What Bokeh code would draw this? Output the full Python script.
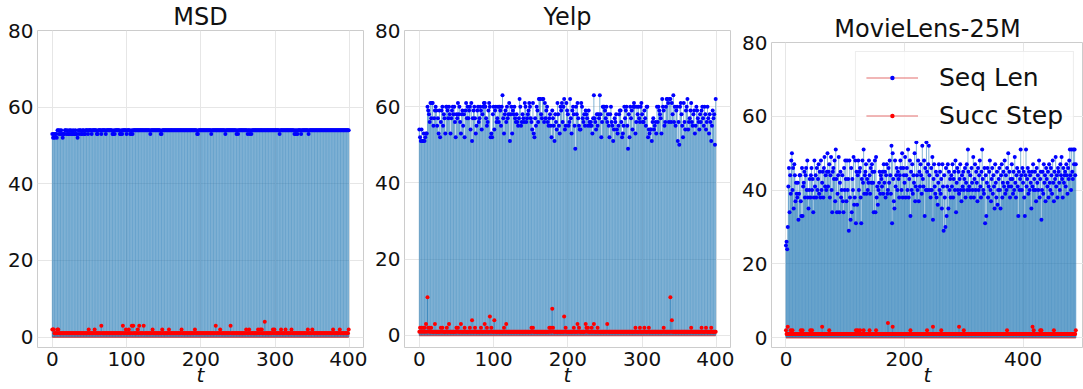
from bokeh.plotting import figure
from bokeh.models import Range1d, FixedTicker, Legend, LegendItem, ColumnDataSource, Spacer
from bokeh.layouts import row, column
from bokeh.embed import file_html
from bokeh.resources import INLINE

# ---------------- data ----------------
titles = ["MSD", "Yelp", "MovieLens-25M"]
x_ticks_a = [0, 100, 200, 300, 400]
x_ticks_b = [0, 200, 400]
y_ticks = [0, 20, 40, 60, 80]
legend_labels = ["Seq Len", "Succ Step"]

msd_seq = [
    53,52,53,52,53,53,52,54,54,53,54,53,54,53,52,53,53,54,54,53,
    54,53,53,54,53,54,53,53,54,53,53,54,53,53,52,54,53,54,54,53,
    53,54,54,53,53,54,54,54,53,54,54,54,54,53,54,54,54,54,54,54,
    53,53,54,54,54,54,53,54,54,54,54,54,53,54,54,54,54,54,54,54,
    54,53,53,54,53,54,54,54,54,54,54,53,53,54,53,54,54,54,54,54,
    53,54,54,54,54,53,53,54,53,54,54,54,54,54,54,54,54,54,54,54,
    54,54,54,54,54,54,54,54,54,54,54,54,53,54,54,54,54,54,54,54,
    54,54,54,54,54,54,53,53,54,54,54,54,54,54,54,54,54,54,54,54,
    54,54,54,54,54,54,54,54,54,54,54,54,54,54,54,54,54,54,54,54,
    54,54,54,54,54,54,54,54,54,54,54,54,54,54,54,53,53,54,54,54,
    54,54,54,54,54,54,54,54,54,54,54,54,54,54,53,54,54,54,54,54,
    54,54,54,54,54,54,54,54,54,54,54,54,54,53,54,54,54,54,54,54,
    54,54,54,54,54,54,54,54,53,54,53,54,54,54,54,54,54,54,54,54,
    54,54,54,53,54,54,53,54,53,54,54,54,54,54,54,54,54,54,54,54,
    54,54,54,54,54,54,54,54,54,54,54,54,54,54,54,54,54,54,54,54,
    54,54,54,54,54,54,53,54,54,54,54,54,54,54,54,54,54,54,54,54,
    54,54,54,54,54,54,53,54,53,54,53,54,54,54,54,53,54,54,54,54,
    54,54,54,54,54,53,54,54,54,54,54,54,54,54,54,54,54,54,54,54,
    54,54,54,54,54,54,54,54,54,54,54,54,54,54,54,54,54,54,54,54,
    54,54,54,54,54,54,54,54,54,54,54,54,54,54,54,54,54,54,54,54,
]
msd_succ = [
    2,2,2,1,1,1,1,2,2,1,1,1,1,1,1,1,1,1,1,1,
    1,1,1,1,1,1,1,1,1,1,1,1,1,1,1,1,1,1,1,1,
    1,1,1,1,1,1,1,1,1,2,1,1,1,1,1,1,1,2,1,1,
    1,1,1,1,1,1,3,1,1,1,1,1,1,1,1,1,1,1,1,1,
    1,1,1,1,1,1,1,1,1,1,1,1,1,1,1,3,1,1,1,2,
    1,1,1,2,1,1,1,3,1,3,1,1,1,1,1,2,1,3,1,1,
    1,1,1,3,1,1,1,1,1,1,1,1,1,1,1,2,1,1,1,1,
    1,1,1,1,1,1,1,1,2,1,1,1,1,1,1,1,1,2,1,1,
    1,1,1,1,1,1,1,1,1,1,1,1,1,1,2,1,1,1,1,1,
    1,1,1,1,1,1,1,1,1,1,1,1,2,1,1,1,1,1,1,1,
    1,1,1,1,1,1,1,1,1,1,1,1,1,1,1,1,1,1,1,1,
    3,1,1,1,1,1,2,1,1,1,1,1,1,1,1,1,1,1,1,1,
    3,1,1,1,1,1,1,1,1,1,1,1,1,1,1,1,1,1,1,1,
    1,2,1,1,1,2,1,1,1,1,1,1,1,1,1,1,1,2,1,1,
    2,1,2,1,1,1,4,1,1,1,1,1,1,1,1,1,1,2,1,2,
    1,1,1,1,1,1,1,1,2,1,1,1,1,1,2,1,1,1,1,1,
    1,1,2,1,1,1,1,1,1,1,1,1,1,1,1,1,1,1,1,1,
    1,1,1,1,2,1,1,1,1,1,2,1,1,1,1,1,1,1,1,1,
    1,1,1,1,1,1,1,1,1,1,1,1,1,1,1,1,1,1,2,1,
    1,1,1,1,1,1,1,2,1,1,1,1,1,1,1,1,1,1,1,2,
]
yelp_seq = [
    54,52,51,54,51,51,53,51,52,53,53,60,59,58,56,61,57,61,61,55,
    57,59,60,59,55,57,53,59,52,56,59,60,55,58,57,53,60,60,59,57,
    60,58,53,57,59,60,58,60,56,52,58,57,61,58,60,56,53,58,59,55,
    58,52,59,61,57,60,57,59,60,54,61,51,57,59,60,57,53,55,59,60,
    56,57,60,59,54,58,60,61,61,60,57,55,56,59,61,60,52,53,52,58,
    60,54,59,60,56,57,60,56,60,59,55,60,63,57,53,58,59,56,60,57,
    58,61,51,58,60,53,59,58,60,57,56,58,56,55,57,62,60,55,56,58,
    57,56,61,60,56,57,58,59,61,60,57,56,54,61,53,52,57,55,60,59,
    56,62,62,62,58,57,62,62,56,61,57,59,60,56,55,57,58,55,52,59,
    57,55,51,58,56,54,61,58,55,53,60,59,61,56,60,62,54,55,61,59,
    58,55,56,62,57,53,59,60,58,55,49,60,58,61,57,55,54,54,61,60,
    57,56,58,55,59,58,57,55,59,56,55,56,55,53,57,63,57,56,54,58,
    55,58,57,63,58,52,56,60,60,60,59,57,60,56,58,55,52,58,60,56,
    55,51,54,57,56,58,54,53,55,58,59,59,56,52,53,55,60,57,59,60,
    55,49,58,52,60,57,59,54,60,61,60,53,56,60,58,60,57,56,60,61,
    58,56,56,59,57,55,60,60,52,54,53,54,54,51,56,57,54,55,56,53,
    60,56,60,59,58,57,53,62,60,59,55,56,60,62,62,61,56,62,62,56,
    61,58,63,56,60,55,59,60,51,56,50,60,61,58,55,52,61,56,54,59,
    60,62,54,56,57,59,61,56,55,58,59,53,55,60,59,57,56,54,58,56,
    59,60,57,55,60,58,54,56,60,57,53,58,56,51,55,59,57,58,50,62,
]
yelp_succ = [
    1,2,1,2,1,2,1,2,1,3,1,10,2,1,2,1,2,1,1,1,
    1,3,1,1,1,1,1,1,1,2,1,2,1,1,1,1,1,2,1,1,
    3,1,1,1,1,1,1,1,1,1,2,1,2,1,1,1,3,1,1,1,
    1,2,1,1,1,1,1,1,2,1,1,4,1,1,1,2,1,1,1,1,
    1,1,1,2,1,1,1,1,3,1,1,2,1,1,1,5,1,2,1,1,
    1,4,1,1,1,1,1,1,1,1,1,1,1,1,2,1,1,3,1,1,
    1,1,1,1,1,1,1,1,1,1,1,1,1,1,1,1,1,1,1,1,
    1,1,1,1,1,1,1,1,1,1,1,2,1,2,1,1,1,1,1,1,
    1,1,1,1,1,1,1,1,1,1,1,1,1,1,1,2,1,2,1,7,
    2,1,1,1,1,1,1,1,1,1,1,1,1,1,1,5,1,2,1,1,
    1,1,1,1,1,1,1,1,2,1,1,1,1,3,1,2,1,1,1,1,
    1,1,1,1,3,2,1,2,1,1,1,1,2,1,1,3,1,1,1,1,
    2,1,1,1,1,1,1,1,1,1,1,1,1,3,1,1,1,1,1,1,
    1,1,1,1,1,1,1,1,1,1,1,1,1,1,1,1,1,1,1,1,
    1,1,1,1,1,1,1,1,1,1,1,2,1,1,1,1,1,2,1,1,
    1,1,1,2,1,1,1,1,1,2,1,1,1,1,1,1,1,1,1,1,
    1,1,1,1,1,1,1,1,1,2,1,1,1,1,1,1,1,1,10,1,
    4,1,1,1,1,1,1,1,1,1,1,1,1,1,1,1,1,1,1,1,
    1,1,1,1,1,1,2,1,1,1,1,1,1,1,1,1,1,1,1,1,
    2,1,1,1,1,1,2,1,1,1,1,1,1,2,1,1,1,1,1,1,
]
ml_seq = [
    25,26,24,30,41,46,34,44,39,48,50,40,46,35,47,44,37,42,39,38,
    42,32,39,44,44,37,33,46,33,41,42,45,38,44,46,40,48,38,35,40,
    43,38,44,46,40,43,34,38,48,41,44,38,46,40,43,47,39,45,38,48,
    40,42,45,38,46,49,41,44,40,45,50,41,45,47,38,44,49,40,34,45,
    46,43,48,37,51,43,34,39,44,49,34,42,45,38,40,44,37,34,46,40,
    48,43,37,48,40,43,29,48,38,32,46,34,43,40,49,36,38,48,31,45,
    36,44,48,40,45,46,38,31,43,48,42,51,39,44,45,47,39,43,40,42,
    48,44,39,46,42,47,45,42,34,45,48,34,49,38,41,36,40,42,45,39,
    44,43,41,45,39,47,42,45,38,44,47,39,40,46,42,48,44,39,52,31,
    50,43,37,35,48,41,44,46,40,45,43,38,44,48,46,40,50,38,46,44,
    42,49,38,44,46,40,51,38,43,48,33,45,40,47,39,44,42,50,37,41,
    53,44,40,48,37,45,41,47,44,39,52,43,41,48,33,46,40,53,45,40,
    47,52,44,40,38,46,40,49,32,43,47,41,39,45,38,44,36,42,47,40,
    45,39,43,35,47,41,29,44,38,30,46,33,41,47,35,45,40,43,38,44,
    41,47,38,43,45,40,48,34,42,46,40,45,39,43,47,40,37,44,41,45,
    40,43,46,38,42,47,40,51,45,41,40,44,38,46,42,40,49,38,43,47,
    40,45,42,37,46,40,44,48,41,38,45,51,43,40,39,46,31,44,33,42,
    46,38,41,45,48,40,37,43,46,39,44,41,35,47,42,38,45,36,40,43,
    46,40,35,44,47,38,42,45,41,48,39,44,40,46,42,50,41,45,38,43,
    41,47,43,39,45,40,49,42,38,44,46,41,33,45,40,43,51,44,40,46,
    42,45,38,33,44,51,41,43,46,39,45,40,44,42,35,45,41,47,40,43,
    45,40,37,46,42,44,40,48,38,43,45,32,40,45,39,47,42,44,37,46,
    43,41,45,38,47,42,40,46,44,39,48,42,37,45,43,49,41,44,38,46,
    45,42,40,47,44,49,43,38,46,42,44,45,41,47,44,39,46,43,48,51,
    44,40,51,45,43,51,47,51,44,47,
]
ml_succ = [
    2,1,1,3,1,1,1,1,2,1,1,2,1,1,1,1,1,1,1,1,
    1,1,1,1,1,2,1,1,2,1,1,1,1,1,1,1,1,1,1,1,
    1,2,1,1,2,1,1,1,1,1,1,1,1,1,1,1,1,1,1,1,
    1,3,1,1,1,1,1,1,1,1,1,1,1,2,1,1,1,1,1,1,
    1,1,1,1,1,1,1,1,1,1,1,1,1,1,1,1,1,1,1,1,
    1,1,1,1,1,1,1,1,1,1,1,1,1,1,1,1,1,1,2,1,
    1,2,1,1,1,2,1,1,1,1,1,2,1,1,1,1,1,1,1,1,
    1,2,1,1,1,1,1,1,1,1,1,1,2,1,1,1,1,1,1,1,
    1,1,1,1,1,1,1,1,1,1,1,1,4,1,1,1,1,1,1,1,
    3,1,1,1,1,1,1,1,1,1,1,1,1,1,1,1,1,1,1,1,
    1,1,1,1,1,1,1,1,1,1,2,1,1,1,1,1,1,1,1,1,
    1,1,1,1,1,1,1,1,1,1,1,1,1,1,1,1,1,1,2,1,
    1,1,1,1,1,1,1,1,3,1,1,1,1,1,1,1,1,1,1,1,
    1,1,2,1,1,1,1,1,1,1,1,1,1,1,1,1,1,1,1,1,
    1,1,1,1,1,1,1,1,1,1,1,1,3,1,1,1,1,1,1,1,
    2,1,1,1,1,1,1,1,1,1,1,1,1,1,1,1,1,1,1,1,
    1,1,1,1,1,1,1,1,1,1,1,1,1,1,1,1,1,1,1,1,
    1,1,1,1,1,1,1,1,1,1,1,1,1,1,1,1,1,1,1,1,
    1,1,1,1,1,1,1,1,1,1,1,1,1,2,1,1,1,1,1,1,
    1,1,1,1,1,1,1,1,1,1,1,1,1,1,1,1,1,1,1,1,
    1,1,1,1,1,1,1,1,1,1,1,1,1,1,1,1,3,1,2,1,
    1,1,1,1,1,1,1,1,1,2,1,2,1,1,1,1,1,1,1,1,
    1,1,1,1,1,1,1,1,1,1,1,1,2,1,1,1,1,1,1,1,
    1,1,1,1,1,1,1,1,1,1,1,1,1,1,1,1,1,1,1,1,
    1,1,1,1,1,1,1,1,1,2,
]

FONT = "DejaVu Sans"
TXT = "#111111"
STEM = "#1f77b4"
BASE = "#d62728"
H = 389
P3_DROP = 12


def panel(title, seq, succ, x_end, xticks, width, height, bl, br, legend=False):
    t = list(range(len(seq)))
    n = len(seq) - 1
    ymax = max(max(seq), max(succ))
    p = figure(width=width, height=height, output_backend="svg", toolbar_location=None,
               x_range=Range1d(-0.05 * n, x_end if x_end else 1.05 * n),
               y_range=Range1d(-0.05 * ymax, 80),
               min_border_left=bl, min_border_right=br, min_border_top=0, min_border_bottom=0)
    p.background_fill_color = "white"
    p.border_fill_color = "white"
    p.outline_line_color = "#cccccc"
    p.outline_line_width = 1

    p.title.text = title
    p.title.align = "center"
    p.title.text_font = FONT
    p.title.text_font_size = "24px"
    p.title.text_font_style = "normal"
    p.title.text_color = TXT
    p.title.standoff = 0

    for ax in (p.xaxis[0], p.yaxis[0]):
        ax.axis_line_color = None
        ax.major_tick_line_color = None
        ax.minor_tick_line_color = None
        ax.major_tick_out = 0
        ax.major_tick_in = 0
        ax.minor_tick_out = 0
        ax.major_label_text_font = FONT
        ax.major_label_text_font_size = "20px"
        ax.major_label_text_color = TXT
    p.yaxis[0].axis_label = None
    p.xaxis[0].axis_label = "t"
    p.xaxis[0].axis_label_text_font = FONT
    p.xaxis[0].axis_label_text_font_size = "20px"
    p.xaxis[0].axis_label_text_font_style = "italic"
    p.xaxis[0].axis_label_text_color = TXT
    p.xaxis[0].axis_label_standoff = -6
    p.xaxis[0].ticker = FixedTicker(ticks=xticks)
    p.yaxis[0].ticker = FixedTicker(ticks=y_ticks)
    p.xaxis[0].major_label_standoff = 4
    p.yaxis[0].major_label_standoff = 4
    p.xgrid[0].ticker = FixedTicker(ticks=xticks)
    p.ygrid[0].ticker = FixedTicker(ticks=y_ticks)
    p.xgrid[0].grid_line_color = "#e6e6e6"
    p.ygrid[0].grid_line_color = "#e6e6e6"

    src = ColumnDataSource(dict(t=t, seq=seq, succ=succ, zero=[0] * len(t)))
    # stems, baselines and markers (stem plot)
    p.segment(x0="t", y0="zero", x1="t", y1="seq", source=src,
              line_color=STEM, line_alpha=0.55, line_width=1)
    b1 = p.line(x=[t[0], t[-1]], y=[0, 0], line_color=BASE, line_alpha=0.45, line_width=1.5)
    m1 = p.scatter(x="t", y="seq", source=src, size=4, marker="circle",
                   fill_color="#0000ff", line_color=None)
    p.segment(x0="t", y0="zero", x1="t", y1="succ", source=src,
              line_color=STEM, line_alpha=0.55, line_width=1)
    b2 = p.line(x=[t[0], t[-1]], y=[0, 0], line_color=BASE, line_alpha=0.45, line_width=1.5)
    m2 = p.scatter(x="t", y="succ", source=src, size=4, marker="circle",
                   fill_color="#ff0000", line_color=None)

    if legend:
        lg = Legend(items=[LegendItem(label=legend_labels[0], renderers=[b1, m1]),
                           LegendItem(label=legend_labels[1], renderers=[b2, m2])],
                    location="top_right", margin=9,
                    label_text_font=FONT, label_text_font_size="25px", label_text_color=TXT,
                    glyph_width=52, glyph_height=11, label_height=30, label_standoff=21,
                    spacing=8, padding=10,
                    border_line_color="#dcdcdc", border_line_width=1,
                    background_fill_color="white", background_fill_alpha=0.8)
        p.add_layout(lg)
    return p


p1 = panel(titles[0], msd_seq, msd_succ, None, x_ticks_a, 367, H, 37, 4)
p2 = panel(titles[1], yelp_seq, yelp_succ, None, x_ticks_a, 367, H, 37, 4)
p3 = panel(titles[2], ml_seq, ml_succ, 502.0, x_ticks_b, 349, H - P3_DROP, 37, 0, legend=True)

layout = row(p1, p2, column(Spacer(width=349, height=P3_DROP), p3))
open("out.html", "w").write(file_html(layout, INLINE))
